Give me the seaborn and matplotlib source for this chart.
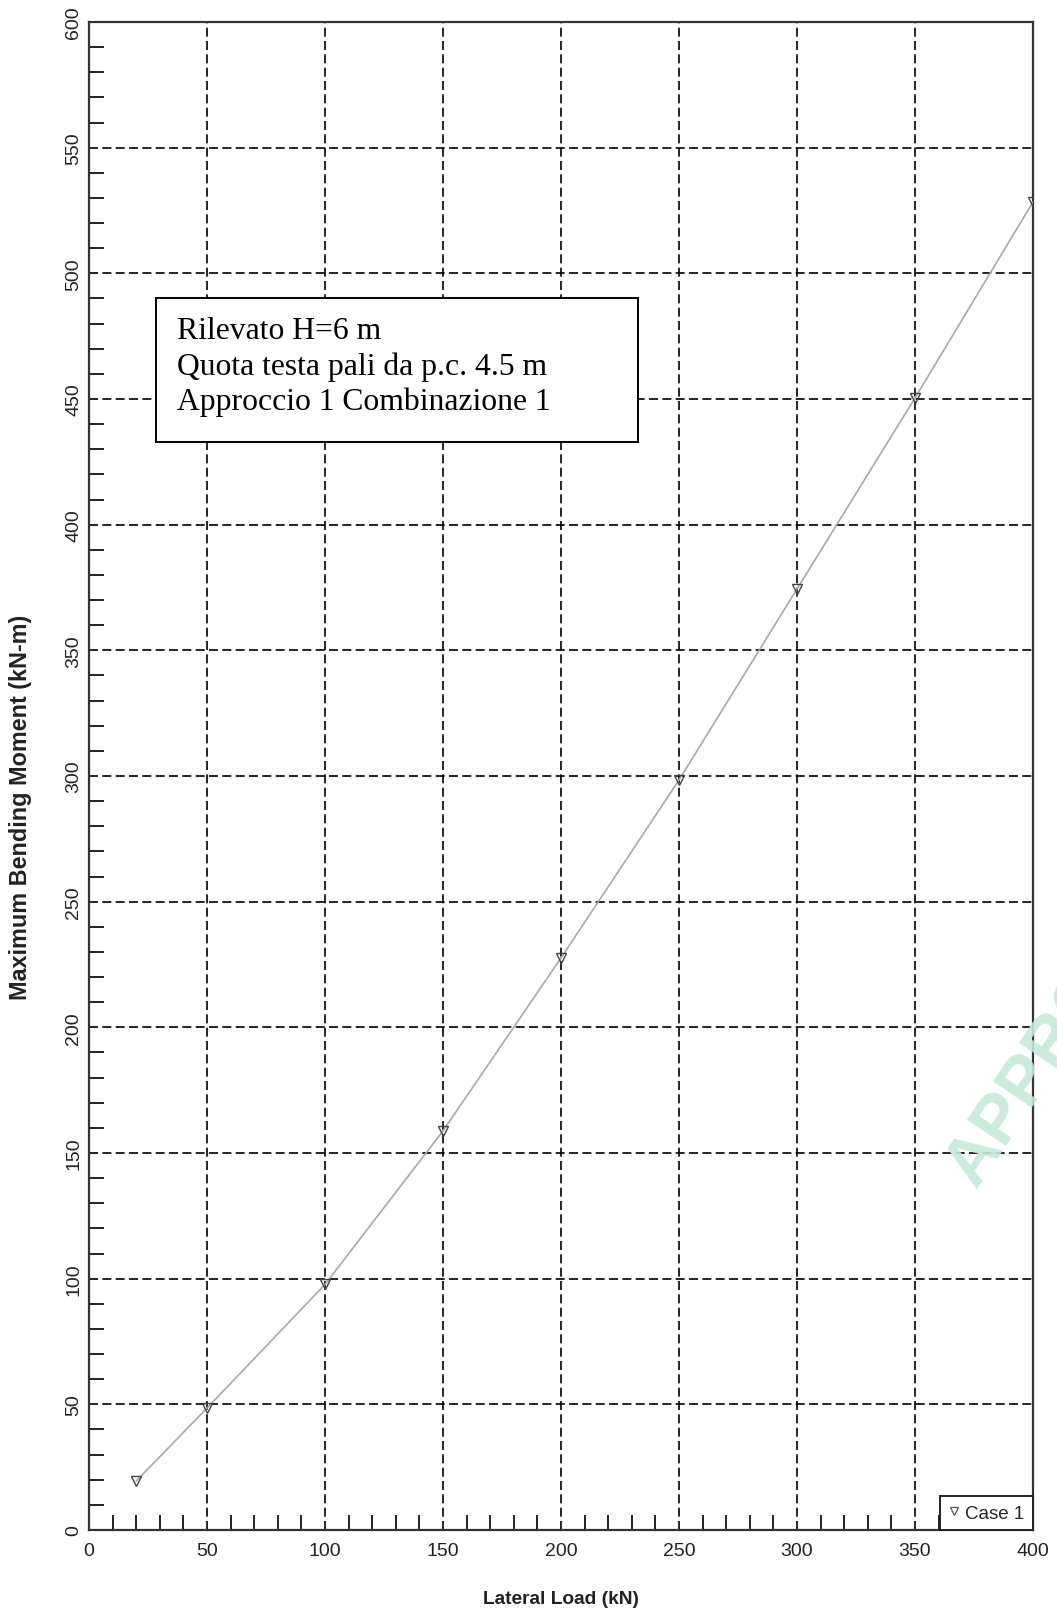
import matplotlib
matplotlib.use("Agg")
import matplotlib.pyplot as plt
import seaborn as sns
import pandas as pd
from matplotlib.patches import Rectangle
from matplotlib.lines import Line2D
from matplotlib.ticker import MultipleLocator

# ---- data ----
lateral_load = [20, 50, 100, 150, 200, 250, 300, 350, 400]
max_moment = [19.5, 48.5, 97.7, 158.8, 227.6, 298.4, 374.4, 450.4, 528.4]
series_name = "Case 1"
x_ticks = [0, 50, 100, 150, 200, 250, 300, 350, 400]
y_ticks = [0, 50, 100, 150, 200, 250, 300, 350, 400, 450, 500, 550, 600]
note_lines = ["Rilevato H=6 m", "Quota testa pali da p.c. 4.5 m", "Approccio 1 Combinazione 1"]

df = pd.DataFrame({"load": lateral_load, "moment": max_moment})

sns.set_style("white")
plt.rcParams["font.family"] = ["Liberation Sans", "DejaVu Sans"]

W, H = 1057, 1615
fig = plt.figure(figsize=(W / 100, H / 100), dpi=100)
fig.patch.set_facecolor("white")
ax = fig.add_axes([89 / W, 1 - 1531 / H, (1033 - 89) / W, (1531 - 23) / H])

ax.set_xlim(0, 400)
ax.set_ylim(0, 600)

# grid
ax.set_xticks(x_ticks)
ax.set_yticks(y_ticks)
ax.xaxis.set_minor_locator(MultipleLocator(10))
ax.yaxis.set_minor_locator(MultipleLocator(10))
ax.grid(True, which="major", color="black", linestyle=(0, (5.4, 2.6)), linewidth=1.2)
ax.set_axisbelow(True)

sns.lineplot(data=df, x="load", y="moment", ax=ax, color="#a8a8a8", linewidth=1.2,
             marker="v", markersize=7, markerfacecolor="none",
             markeredgecolor="#444444", markeredgewidth=1.0, zorder=3)

for s in ax.spines.values():
    s.set_visible(True)
    s.set_color("#333333")
    s.set_linewidth(1.6)

ax.tick_params(axis="both", which="both", direction="in", color="#222222", width=1.4,
               bottom=True, left=True, top=False, right=False)
ax.tick_params(axis="both", which="major", length=0, labelsize=14, labelcolor="#222222")
ax.tick_params(axis="both", which="minor", length=11)
ax.tick_params(axis="x", which="major", pad=9)
ax.tick_params(axis="y", which="major", pad=5)
for lab in ax.get_yticklabels():
    lab.set_rotation(90)
    lab.set_va("center")

ax.set_xlabel("Lateral Load (kN)", fontsize=13.8, fontweight="bold", color="#222222", labelpad=22)
ax.set_ylabel("")
fig.text(21 / W, 1 - 807 / H, "Maximum Bending Moment (kN-m)", fontsize=16.8, fontweight="bold",
         color="#222222", rotation=90, ha="center", va="center")

# legend
handle = Line2D([], [], marker="v", linestyle="none", markersize=6, markerfacecolor="none",
                markeredgecolor="#555555", markeredgewidth=0.9)
leg = ax.legend([handle], [series_name], loc="lower right", borderaxespad=0, fancybox=False,
                framealpha=1, edgecolor="#222222", fontsize=13.5, handlelength=0.6,
                handletextpad=0.3, borderpad=0.45)
leg.get_frame().set_linewidth(1.4)

# annotation box
fig.patches.append(Rectangle((156 / W, 1 - 443 / H), (638 - 156) / W, (443 - 299) / H,
                             transform=fig.transFigure, facecolor="white", edgecolor="black",
                             linewidth=1.4, zorder=5))
for i, line in enumerate(note_lines):
    fig.text(177 / W, 1 - (339 + 35.5 * i) / H, line, fontsize=22.8,
             family=["Liberation Serif", "DejaVu Serif"], color="black",
             ha="left", va="baseline", zorder=6)

# watermark
fig.text(976 / W, 1 - 1190 / H, "APPROVED", fontsize=50, fontweight="bold", color="#c6e9da",
         rotation=56, rotation_mode="anchor", ha="left", va="baseline", zorder=0.5, alpha=0.9)

fig.savefig("out.png", dpi=100)
